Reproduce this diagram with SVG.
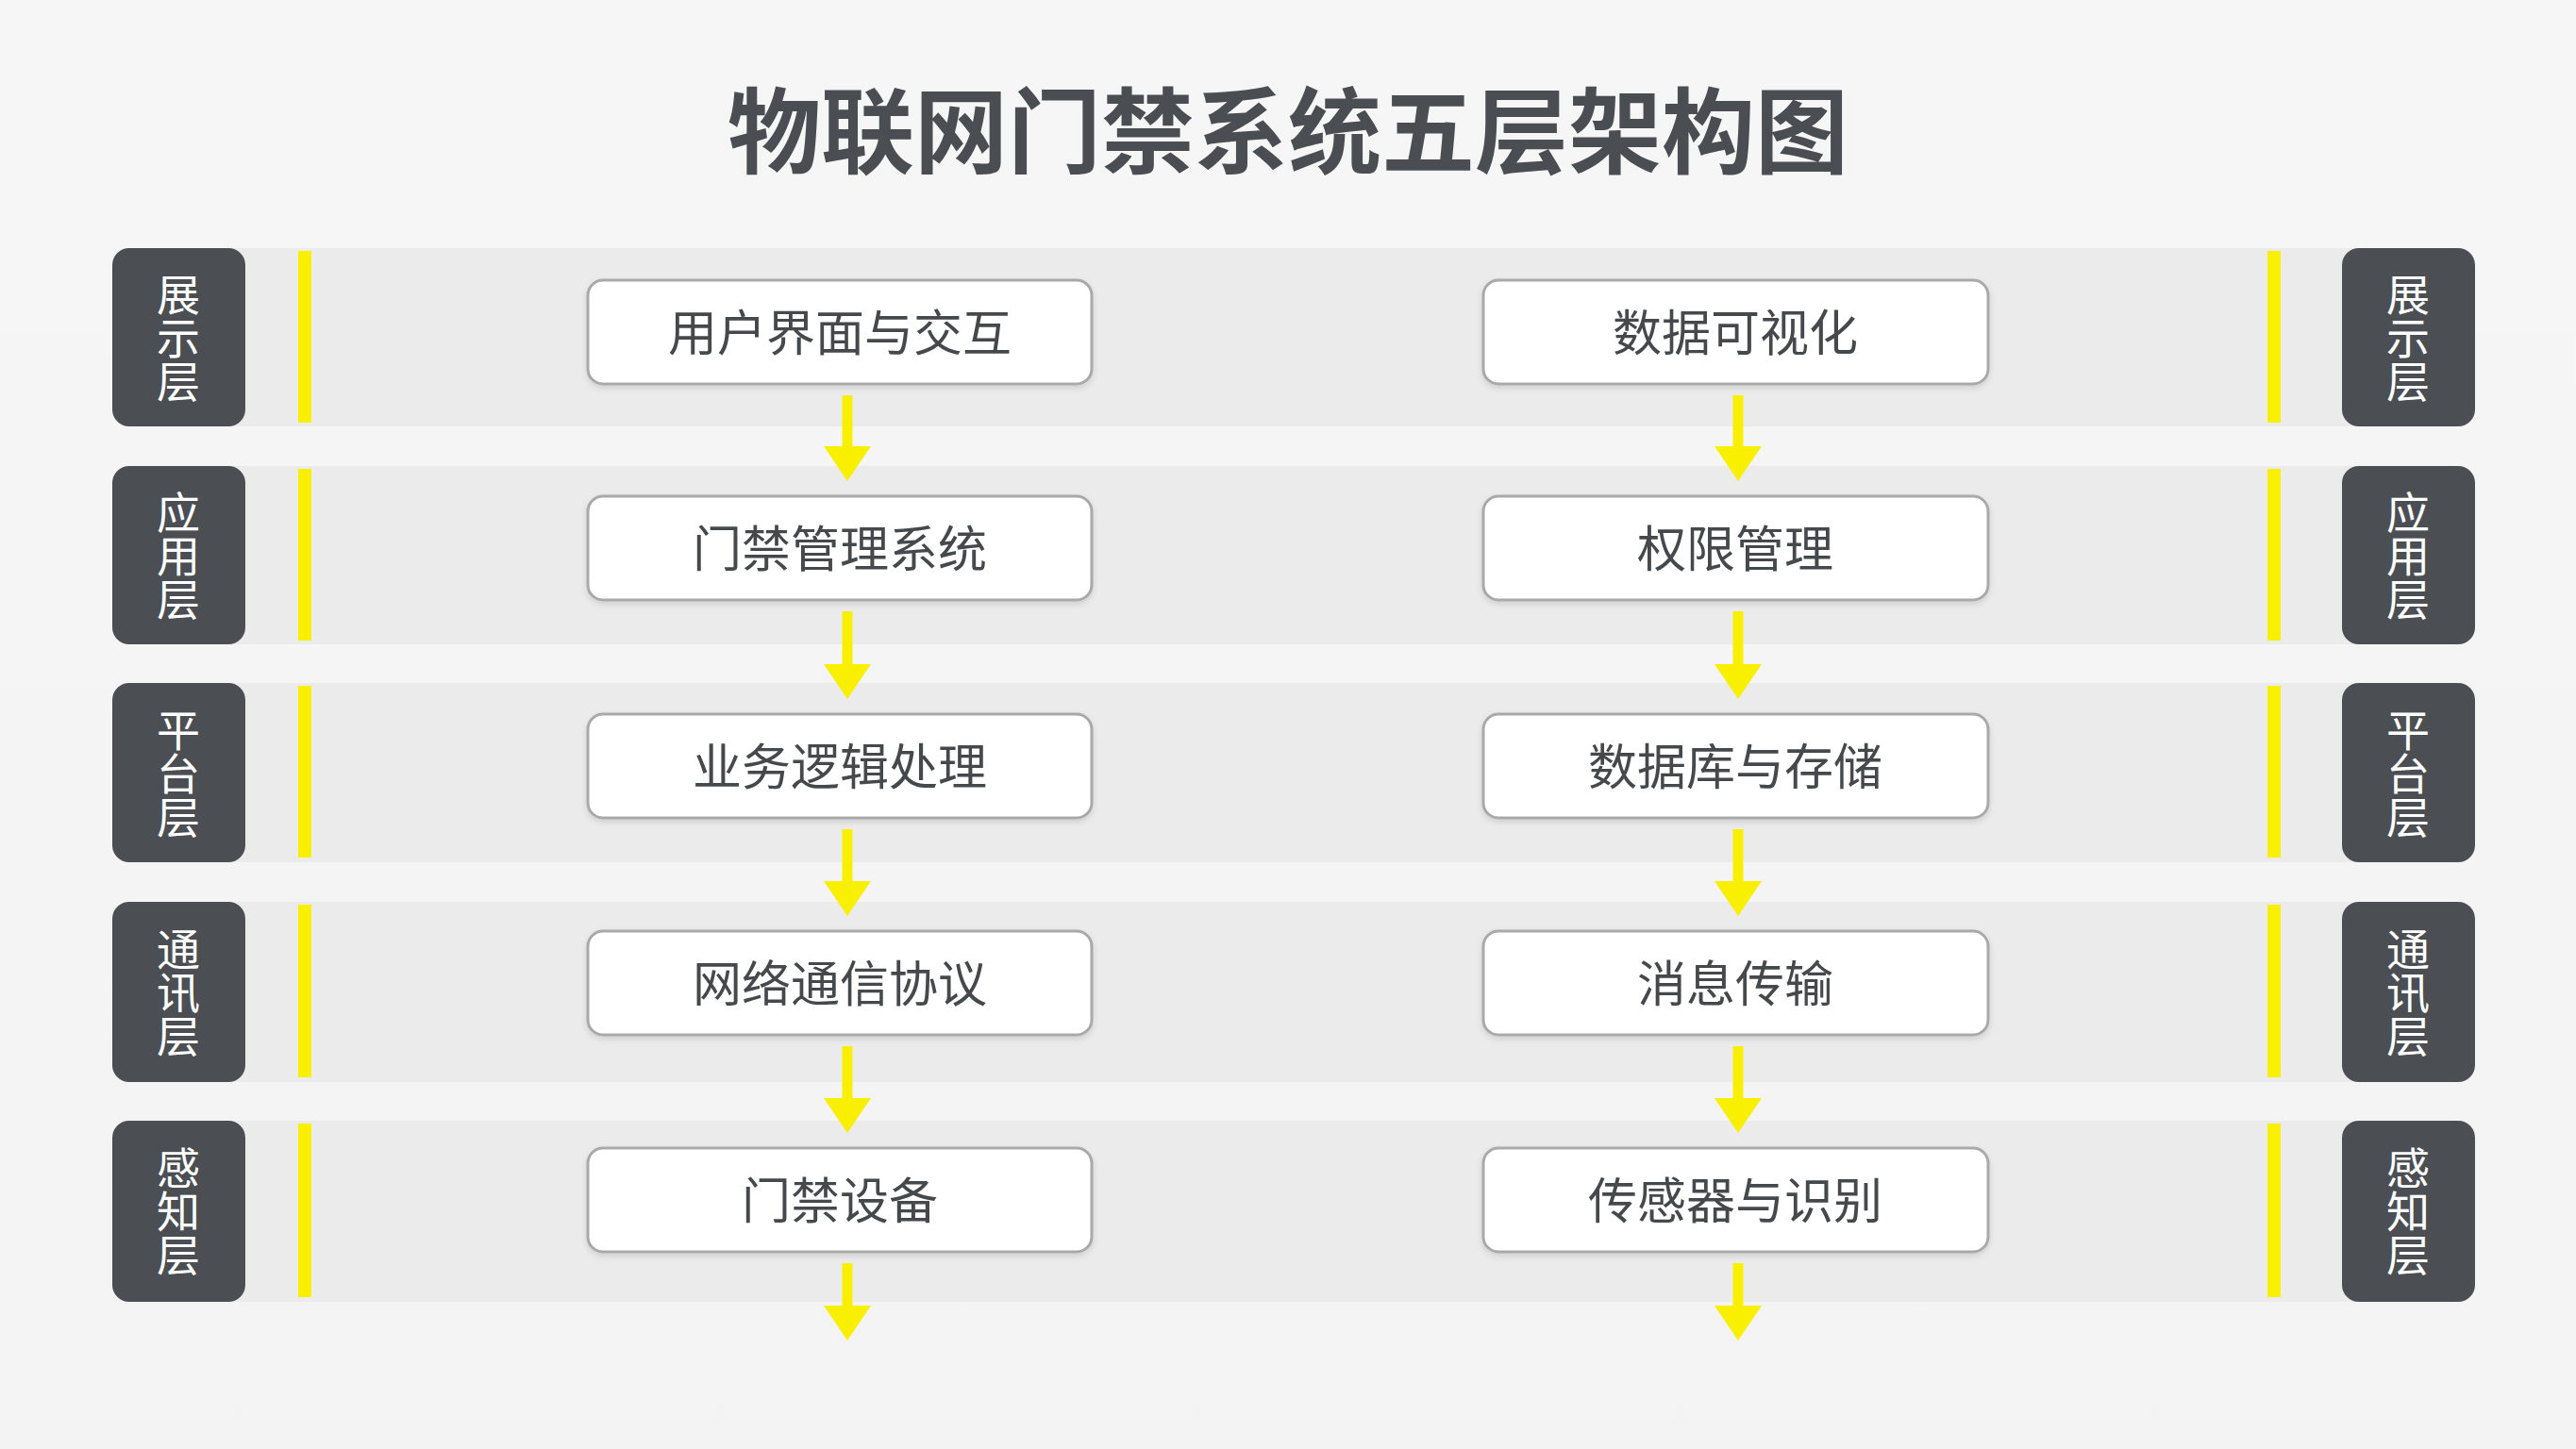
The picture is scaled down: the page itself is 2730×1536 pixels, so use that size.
<svg xmlns="http://www.w3.org/2000/svg" width="2730" height="1536" viewBox="0 0 2730 1536">
  <defs>
    <linearGradient id="bg" x1="0" y1="0" x2="0" y2="1">
      <stop offset="0" stop-color="#f6f6f6"/>
      <stop offset="1" stop-color="#f3f3f3"/>
    </linearGradient>
    <filter id="sh" x="-5%" y="-20%" width="110%" height="150%">
      <feDropShadow dx="0" dy="3" stdDeviation="3" flood-color="#000" flood-opacity="0.12"/>
    </filter>
    <style>
      .band { fill: #ebebeb; }
      .pill { fill: #4b4f54; }
      .bar { fill: #f8f000; }
      .box { fill: #ffffff; stroke: #a9a9a9; stroke-width: 3; filter: url(#sh); }
      .ptxt { font-family: "Noto Sans CJK SC", "Noto Sans", sans-serif; font-size: 46px; fill: #ffffff; text-anchor: middle; writing-mode: vertical-rl; }
      .btxt { font-family: "Noto Sans CJK SC", "Noto Sans", sans-serif; font-size: 52px; fill: #46494c; text-anchor: middle; }
      .title { font-family: "Noto Sans CJK SC", "Noto Sans", sans-serif; font-size: 99px; font-weight: 700; fill: #4a4e53; text-anchor: middle; }
      .aline { stroke: #f8f000; stroke-width: 11; fill: none; }
      .ahead { fill: #f8f000; }
    </style>
  </defs>

  <rect x="0" y="0" width="2730" height="1536" fill="url(#bg)"/>

  <text id="title" class="title" x="1365" y="176">物联网门禁系统五层架构图</text>

  <!-- Layer 1 -->
  <g id="layer-1">
    <rect class="band" x="150" y="263" width="2420" height="189"/>
    <rect class="bar" x="316" y="266" width="14" height="182"/>
    <rect class="bar" x="2403" y="266" width="14" height="182"/>
    <g id="label-1-left">
      <rect class="pill" x="119" y="263" width="141" height="189" rx="18"/>
      <text class="ptxt" x="189" y="358">展示层</text>
    </g>
    <g id="label-1-right">
      <rect class="pill" x="2482" y="263" width="141" height="189" rx="18"/>
      <text class="ptxt" x="2552" y="358">展示层</text>
    </g>
    <g id="node-ui">
      <rect class="box" x="623" y="297" width="534" height="110" rx="16"/>
      <text class="btxt" x="890" y="372">用户界面与交互</text>
    </g>
    <g id="node-vis">
      <rect class="box" x="1572" y="297" width="535" height="110" rx="16"/>
      <text class="btxt" x="1839" y="372">数据可视化</text>
    </g>
  </g>

  <!-- Layer 2 -->
  <g id="layer-2">
    <rect class="band" x="150" y="494" width="2420" height="189"/>
    <rect class="bar" x="316" y="497" width="14" height="182"/>
    <rect class="bar" x="2403" y="497" width="14" height="182"/>
    <g id="label-2-left">
      <rect class="pill" x="119" y="494" width="141" height="189" rx="18"/>
      <text class="ptxt" x="189" y="589">应用层</text>
    </g>
    <g id="label-2-right">
      <rect class="pill" x="2482" y="494" width="141" height="189" rx="18"/>
      <text class="ptxt" x="2552" y="589">应用层</text>
    </g>
    <g id="node-acs">
      <rect class="box" x="623" y="526" width="534" height="110" rx="16"/>
      <text class="btxt" x="890" y="601">门禁管理系统</text>
    </g>
    <g id="node-perm">
      <rect class="box" x="1572" y="526" width="535" height="110" rx="16"/>
      <text class="btxt" x="1839" y="601">权限管理</text>
    </g>
  </g>

  <!-- Layer 3 -->
  <g id="layer-3">
    <rect class="band" x="150" y="724" width="2420" height="190"/>
    <rect class="bar" x="316" y="727" width="14" height="182"/>
    <rect class="bar" x="2403" y="727" width="14" height="182"/>
    <g id="label-3-left">
      <rect class="pill" x="119" y="724" width="141" height="190" rx="18"/>
      <text class="ptxt" x="189" y="820">平台层</text>
    </g>
    <g id="label-3-right">
      <rect class="pill" x="2482" y="724" width="141" height="190" rx="18"/>
      <text class="ptxt" x="2552" y="820">平台层</text>
    </g>
    <g id="node-logic">
      <rect class="box" x="623" y="757" width="534" height="110" rx="16"/>
      <text class="btxt" x="890" y="832">业务逻辑处理</text>
    </g>
    <g id="node-db">
      <rect class="box" x="1572" y="757" width="535" height="110" rx="16"/>
      <text class="btxt" x="1839" y="832">数据库与存储</text>
    </g>
  </g>

  <!-- Layer 4 -->
  <g id="layer-4">
    <rect class="band" x="150" y="956" width="2420" height="191"/>
    <rect class="bar" x="316" y="959" width="14" height="183"/>
    <rect class="bar" x="2403" y="959" width="14" height="183"/>
    <g id="label-4-left">
      <rect class="pill" x="119" y="956" width="141" height="191" rx="18"/>
      <text class="ptxt" x="189" y="1052">通讯层</text>
    </g>
    <g id="label-4-right">
      <rect class="pill" x="2482" y="956" width="141" height="191" rx="18"/>
      <text class="ptxt" x="2552" y="1052">通讯层</text>
    </g>
    <g id="node-net">
      <rect class="box" x="623" y="987" width="534" height="110" rx="16"/>
      <text class="btxt" x="890" y="1062">网络通信协议</text>
    </g>
    <g id="node-msg">
      <rect class="box" x="1572" y="987" width="535" height="110" rx="16"/>
      <text class="btxt" x="1839" y="1062">消息传输</text>
    </g>
  </g>

  <!-- Layer 5 -->
  <g id="layer-5">
    <rect class="band" x="150" y="1188" width="2420" height="192"/>
    <rect class="bar" x="316" y="1191" width="14" height="184"/>
    <rect class="bar" x="2403" y="1191" width="14" height="184"/>
    <g id="label-5-left">
      <rect class="pill" x="119" y="1188" width="141" height="192" rx="18"/>
      <text class="ptxt" x="189" y="1284">感知层</text>
    </g>
    <g id="label-5-right">
      <rect class="pill" x="2482" y="1188" width="141" height="192" rx="18"/>
      <text class="ptxt" x="2552" y="1284">感知层</text>
    </g>
    <g id="node-dev">
      <rect class="box" x="623" y="1217" width="534" height="110" rx="16"/>
      <text class="btxt" x="890" y="1292">门禁设备</text>
    </g>
    <g id="node-sensor">
      <rect class="box" x="1572" y="1217" width="535" height="110" rx="16"/>
      <text class="btxt" x="1839" y="1292">传感器与识别</text>
    </g>
  </g>

  <!-- Connectors -->
  <g id="connectors">
    <line class="aline" x1="898" y1="419" x2="898" y2="476"/>
    <polygon class="ahead" points="873,473 923,473 898,510"/>
    <line class="aline" x1="898" y1="648" x2="898" y2="707"/>
    <polygon class="ahead" points="873,704 923,704 898,741"/>
    <line class="aline" x1="898" y1="879" x2="898" y2="937"/>
    <polygon class="ahead" points="873,934 923,934 898,971"/>
    <line class="aline" x1="898" y1="1109" x2="898" y2="1167"/>
    <polygon class="ahead" points="873,1164 923,1164 898,1201"/>
    <line class="aline" x1="898" y1="1339" x2="898" y2="1387"/>
    <polygon class="ahead" points="873,1384 923,1384 898,1421"/>

    <line class="aline" x1="1842" y1="419" x2="1842" y2="476"/>
    <polygon class="ahead" points="1817,473 1867,473 1842,510"/>
    <line class="aline" x1="1842" y1="648" x2="1842" y2="707"/>
    <polygon class="ahead" points="1817,704 1867,704 1842,741"/>
    <line class="aline" x1="1842" y1="879" x2="1842" y2="937"/>
    <polygon class="ahead" points="1817,934 1867,934 1842,971"/>
    <line class="aline" x1="1842" y1="1109" x2="1842" y2="1167"/>
    <polygon class="ahead" points="1817,1164 1867,1164 1842,1201"/>
    <line class="aline" x1="1842" y1="1339" x2="1842" y2="1387"/>
    <polygon class="ahead" points="1817,1384 1867,1384 1842,1421"/>
  </g>
</svg>
